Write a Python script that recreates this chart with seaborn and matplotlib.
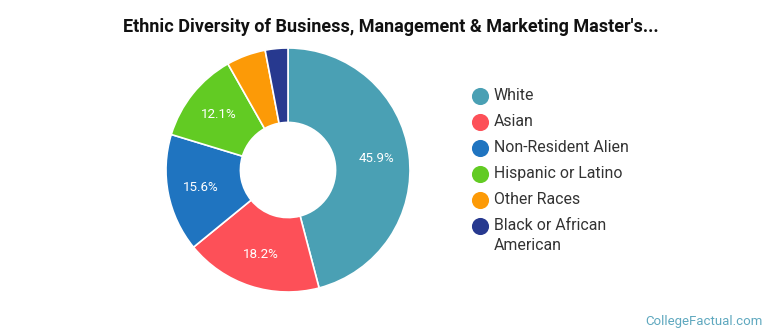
import matplotlib
matplotlib.use("Agg")
import matplotlib.pyplot as plt
from matplotlib.lines import Line2D
import seaborn as sns

# Share of master's graduates by race/ethnicity (percent)
groups = ["White", "Asian", "Non-Resident Alien", "Hispanic or Latino",
          "Other Races", "Black or African American"]
legend_labels = ["White", "Asian", "Non-Resident Alien", "Hispanic or Latino",
                 "Other Races", "Black or African\nAmerican"]
shares = [45.9, 18.2, 15.6, 12.1, 5.2, 3.0]
colors = ["#4aa0b4", "#fd5058", "#1f74c0", "#62cb23", "#fc9a07", "#27398f"]

sns.set_theme(style="white")
plt.rcParams["font.family"] = ["Roboto", "DejaVu Sans"]

W, H = 770, 335
fig = plt.figure(figsize=(W / 100, H / 100), dpi=100)
ax = fig.add_axes([0, 0, 1, 1])

palette = sns.color_palette(colors)


def pct_label(p):
    return f"{p:.1f}%" if p >= 10 else ""


# Donut, clockwise from 12 o'clock
wedges, texts, autotexts = ax.pie(
    shares,
    colors=palette,
    center=(288, H - 170),
    radius=122,
    startangle=90,
    counterclock=False,
    autopct=pct_label,
    pctdistance=0.73,
    wedgeprops=dict(width=122 * 0.61, edgecolor="white", linewidth=1.2),
    textprops=dict(color="white", fontsize=9.6),
    frame=True,
)
ax.set_xlim(0, W)
ax.set_ylim(0, H)
ax.set_aspect("equal")
ax.axis("off")


def fx(px):
    return px / W


def fy(py):
    return 1 - py / H


fig.text(fx(391), fy(27),
         "Ethnic Diversity of Business, Management & Marketing Master's...",
         ha="center", va="center", fontsize=13, fontweight="bold",
         color="#111111")

# Legend: round swatches with labels, first row at the top
for i, (lab, c) in enumerate(zip(legend_labels, palette)):
    y = 96 + 26 * i
    fig.add_artist(Line2D([fx(480)], [fy(y)], marker="o", markersize=11.3,
                          markerfacecolor=c, markeredgecolor=c,
                          linestyle="", transform=fig.transFigure))
    fig.text(fx(494), fy(y - 8), lab, ha="left", va="top", fontsize=11.4,
             color="#333333", linespacing=1.45)

fig.text(fx(763), fy(321), "CollegeFactual.com", ha="right", va="center",
         fontsize=9.5, color="#5fa8bf")

fig.savefig("out.png", dpi=100)
